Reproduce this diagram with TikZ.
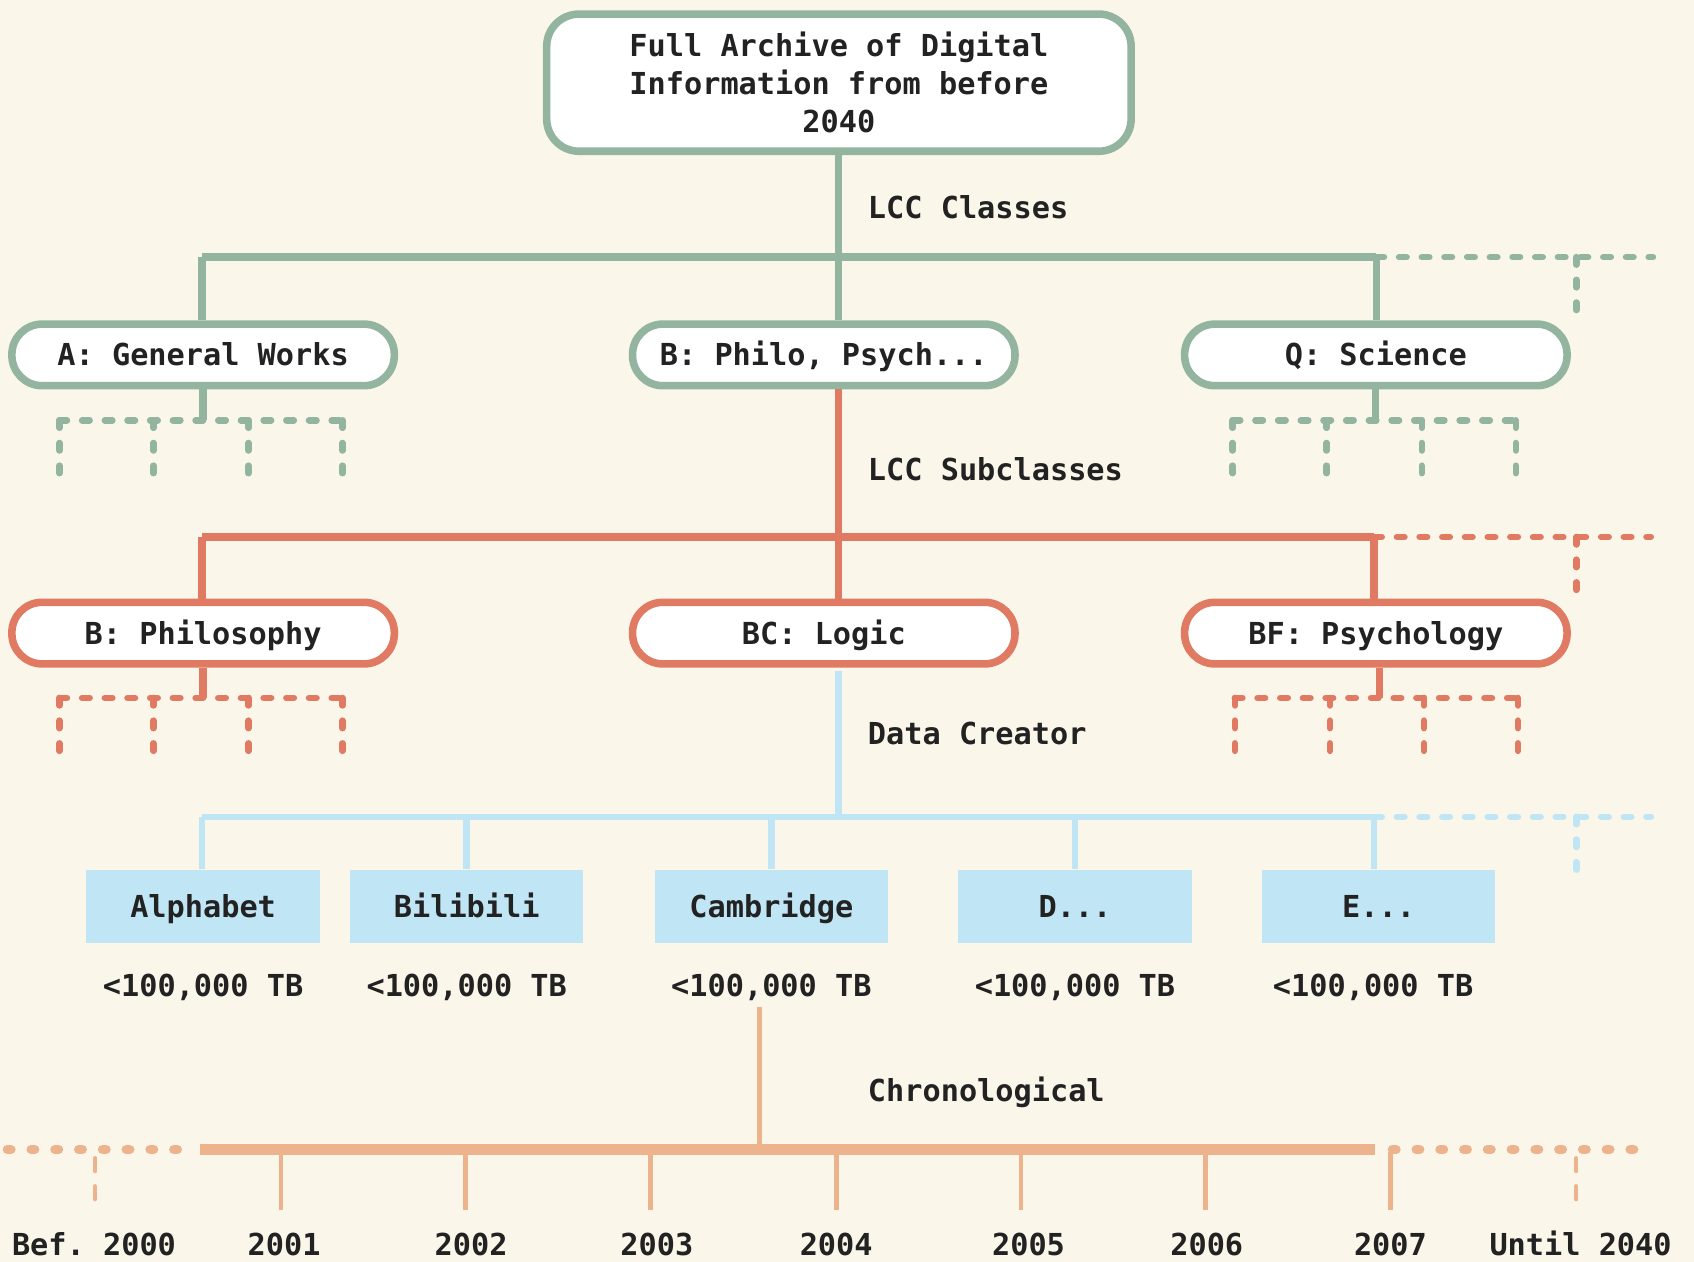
\documentclass[tikz,border=0pt]{standalone}
\usepackage{fontspec}
\setmonofont{DejaVu Sans Mono}
\definecolor{bgc}{HTML}{FAF6EA}
\definecolor{gc}{HTML}{93B59F}
\definecolor{rc}{HTML}{E07A62}
\definecolor{bc}{HTML}{C0E5F5}
\definecolor{oc}{HTML}{EDB38D}
\definecolor{tc}{HTML}{222222}
\tikzset{
  fnt/.style={font=\fontsize{14}{17.5}\selectfont\ttfamily\bfseries, text=tc, inner sep=0pt},
  txt/.style={fnt, text height=10.2pt, text depth=0pt},
  rootbox/.style={fnt, draw=gc, line width=3.5pt, fill=white, rounded corners=15pt, minimum width=270.5pt, minimum height=63.5pt, align=center},
  gpill/.style={txt, draw=gc, line width=3.5pt, fill=white, rounded corners=14pt, minimum width=177pt, minimum height=28.5pt},
  rpill/.style={gpill, draw=rc},
  bbox/.style={txt, fill=bc, minimum width=108pt, minimum height=34pt},
  glab/.style={txt, anchor=west},
  gline/.style={draw=gc, line width=3.5pt},
  gdash/.style={draw=gc, line width=3pt, line cap=round, dash pattern=on 3.5pt off 7pt},
  rline/.style={draw=rc, line width=3.5pt},
  rdash/.style={draw=rc, line width=3pt, line cap=round, dash pattern=on 3.5pt off 7pt},
  bline/.style={draw=bc, line width=3pt},
  bdash/.style={draw=bc, line width=3pt, line cap=round, dash pattern=on 3.5pt off 7pt},
  oline/.style={draw=oc, line width=2.2pt},
  othick/.style={draw=oc, line width=5pt},
  odash/.style={draw=oc, line width=4.5pt, line cap=round, dash pattern=on 1.5pt off 9.5pt},
  otickdash/.style={draw=oc, line width=2pt, line cap=round, dash pattern=on 6pt off 7pt},
}
\begin{document}
\begin{tikzpicture}[x=0.5pt,y=-0.5pt]
\fill[bgc] (0,0) rectangle (1568,1168);
\useasboundingbox (0,0) rectangle (1568,1168);

% ---------- level 0 ----------
\node[rootbox] (root) at (776.5,76.5) {Full Archive of Digital\\Information from before\\2040};
\node[glab] (lcc) at (803,192) {LCC Classes};

% ---------- level 1 ----------
\node[gpill] (A) at (188,328.5) {A: General Works};
\node[gpill] (B) at (762.5,328.5) {B: Philo, Psych...};
\node[gpill] (Q) at (1273.5,328.5) {Q: Science};

\coordinate (g0) at (776,238);
\coordinate (gL) at (187,238);
\coordinate (gR) at (1274,238);
\coordinate (gE) at (1530,238);
\coordinate (gD) at (1459,238);
\coordinate (gDe) at (1459,297);

\draw[gdash] (gR) -- (gE);
\draw[gdash] (gD) -- (gDe);
\draw[gline] (root.south -| g0) -- (g0);
\draw[gline] (gL) -- (gR);
\draw[gline] (gL) -- (gL |- A.north);
\draw[gline] (g0) -- (g0 |- B.north);
\draw[gline] (gR) -- (gR |- Q.north);

% under A
\coordinate (a0) at (188,389);
\coordinate (a1) at (55,389);  \coordinate (a1e) at (55,443);
\coordinate (a2) at (142,389); \coordinate (a2e) at (142,443);
\coordinate (a3) at (230,389); \coordinate (a3e) at (230,443);
\coordinate (a4) at (317,389); \coordinate (a4e) at (317,443);
\draw[gdash] (a1) -- (a4);
\draw[gdash] (a1) -- (a1e); \draw[gdash] (a2) -- (a2e);
\draw[gdash] (a3) -- (a3e); \draw[gdash] (a4) -- (a4e);
\draw[gline] (A.south -| a0) -- (a0);

% under Q
\coordinate (q0) at (1273,389);
\coordinate (q1) at (1141,389); \coordinate (q1e) at (1141,443);
\coordinate (q2) at (1228,389); \coordinate (q2e) at (1228,443);
\coordinate (q3) at (1316,389); \coordinate (q3e) at (1316,443);
\coordinate (q4) at (1403,389); \coordinate (q4e) at (1403,443);
\draw[gdash] (q1) -- (q4);
\draw[gdash] (q1) -- (q1e); \draw[gdash] (q2) -- (q2e);
\draw[gdash] (q3) -- (q3e); \draw[gdash] (q4) -- (q4e);
\draw[gline] (Q.south -| q0) -- (q0);

% ---------- level 2 ----------
\node[glab] (lccs) at (803,435) {LCC Subclasses};
\node[rpill] (Ph) at (188,586) {B: Philosophy};
\node[rpill] (Lo) at (762.5,586) {BC: Logic};
\node[rpill] (Ps) at (1273.5,586) {BF: Psychology};

\coordinate (r0) at (776,497);
\coordinate (rL) at (187,497);
\coordinate (rR) at (1272,497);
\coordinate (rE) at (1528,497);
\coordinate (rD) at (1459,497);
\coordinate (rDe) at (1459,555);
\draw[rdash] (rR) -- (rE);
\draw[rdash] (rD) -- (rDe);
\draw[rline] (B.south -| r0) -- (r0);
\draw[rline] (rL) -- (rR);
\draw[rline] (rL) -- (rL |- Ph.north);
\draw[rline] (r0) -- (r0 |- Lo.north);
\draw[rline] (rR) -- (rR |- Ps.north);

% under Philosophy
\coordinate (p0) at (188,646);
\coordinate (p1) at (55,646);  \coordinate (p1e) at (55,700);
\coordinate (p2) at (142,646); \coordinate (p2e) at (142,700);
\coordinate (p3) at (230,646); \coordinate (p3e) at (230,700);
\coordinate (p4) at (317,646); \coordinate (p4e) at (317,700);
\draw[rdash] (p1) -- (p4);
\draw[rdash] (p1) -- (p1e); \draw[rdash] (p2) -- (p2e);
\draw[rdash] (p3) -- (p3e); \draw[rdash] (p4) -- (p4e);
\draw[rline] (Ph.south -| p0) -- (p0);

% under Psychology
\coordinate (s0) at (1277,646);
\coordinate (s1) at (1143,646); \coordinate (s1e) at (1143,700);
\coordinate (s2) at (1231,646); \coordinate (s2e) at (1231,700);
\coordinate (s3) at (1318,646); \coordinate (s3e) at (1318,700);
\coordinate (s4) at (1405,646); \coordinate (s4e) at (1405,700);
\draw[rdash] (s1) -- (s4);
\draw[rdash] (s1) -- (s1e); \draw[rdash] (s2) -- (s2e);
\draw[rdash] (s3) -- (s3e); \draw[rdash] (s4) -- (s4e);
\draw[rline] (Ps.south -| s0) -- (s0);

% ---------- level 3 ----------
\node[glab] (dc) at (803,679) {Data Creator};
\node[bbox] (c1) at (188,839) {Alphabet};
\node[bbox] (c2) at (432,839) {Bilibili};
\node[bbox] (c3) at (714,839) {Cambridge};
\node[bbox] (c4) at (995,839) {D...};
\node[bbox] (c5) at (1276,839) {E...};
\node[txt] (z1) at (188,912) {<100,000 TB};
\node[txt] (z2) at (432,912) {<100,000 TB};
\node[txt] (z3) at (714,912) {<100,000 TB};
\node[txt] (z4) at (995,912) {<100,000 TB};
\node[txt] (z5) at (1271,912) {<100,000 TB};

\coordinate (b0) at (776,756);
\coordinate (bL) at (187,756);
\coordinate (bR) at (1272,756);
\coordinate (bE) at (1528,756);
\coordinate (bD) at (1459,756);
\coordinate (bDe) at (1459,814);
\draw[bdash] (bR) -- (bE);
\draw[bdash] (bD) -- (bDe);
\draw[bline] (Lo.south -| b0) ++(0,3) -- (b0);
\draw[bline] (bL) -- (bR);
\draw[bline] (bL) -- (bL |- c1.north);
\draw[bline] (c2.north |- b0) -- (c2.north);
\draw[bline] (c3.north |- b0) -- (c3.north);
\draw[bline] (c4.north |- b0) -- (c4.north);
\draw[bline] (bR) -- (bR |- c5.north);

% ---------- level 4 ----------
\node[glab] (chr) at (803,1009) {Chronological};
\coordinate (o0) at (703,1064);
\coordinate (oL) at (185,1064);
\coordinate (oR) at (1273,1064);
\draw[oline] (703,932) coordinate (ot) -- (o0);
\draw[odash] (7,1064) coordinate (oLE) -- (180,1064);
\draw[odash] (1289,1064) -- (1525,1064) coordinate (oRE);
\draw[othick] (oL) -- (oR);

\node[txt] (y0) at (87,1152) {Bef. 2000};
\node[txt] (y1) at (263,1152) {2001};
\node[txt] (y2) at (436,1152) {2002};
\node[txt] (y3) at (608,1152) {2003};
\node[txt] (y4) at (774,1152) {2004};
\node[txt] (y5) at (952,1152) {2005};
\node[txt] (y6) at (1117,1152) {2006};
\node[txt] (y7) at (1287,1152) {2007};
\node[txt] (y8) at (1463,1152) {Until 2040};

\foreach \x/\n in {260/1,431/2,602/3,774/4,945/5,1116/6,1287/7}
  \draw[oline] (\x,1066) coordinate (t\n) -- (\x,1120);
\draw[otickdash] (88,1072) coordinate (t0) -- (88,1124);
\draw[otickdash] (1459,1072) coordinate (t8) -- (1459,1124);
\end{tikzpicture}
\end{document}
